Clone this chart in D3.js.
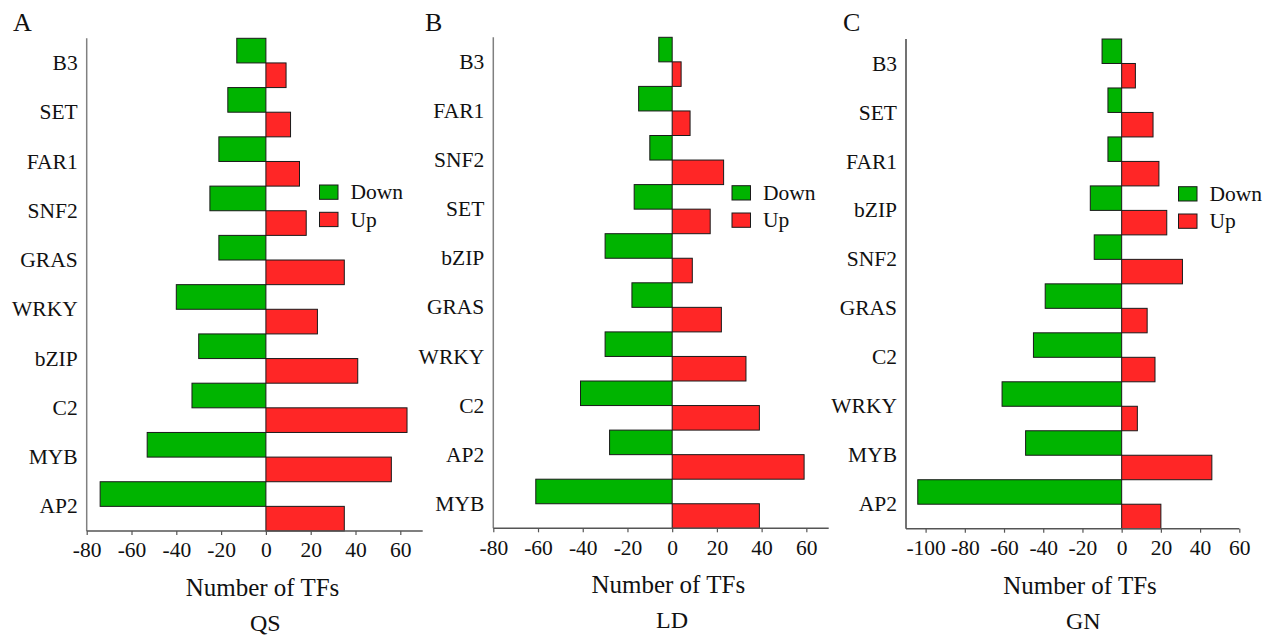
<!DOCTYPE html>
<html>
<head>
<meta charset="utf-8">
<script src="https://cdn.jsdelivr.net/npm/d3@7/dist/d3.min.js"></script>
<style>
  html, body { margin: 0; padding: 0; background: #fff; }
  svg { display: block; }
</style>
</head>
<body>
<svg id="chart" width="1273" height="637"></svg>
<script>
// Differentially expressed TF families: Down (negative) and Up (positive) counts
const catsQS = ["B3", "SET", "FAR1", "SNF2", "GRAS", "WRKY", "bZIP", "C2", "MYB", "AP2"];
const downQS = [-13, -17, -21, -25, -21, -40, -30, -33, -53, -74];
const upQS   = [9, 11, 15, 18, 35, 23, 41, 63, 56, 35];

const catsLD = ["B3", "FAR1", "SNF2", "SET", "bZIP", "GRAS", "WRKY", "C2", "AP2", "MYB"];
const downLD = [-6, -15, -10, -17, -30, -18, -30, -41, -28, -61];
const upLD   = [4, 8, 23, 17, 9, 22, 33, 39, 59, 39];

const catsGN = ["B3", "SET", "FAR1", "bZIP", "SNF2", "GRAS", "C2", "WRKY", "MYB", "AP2"];
const downGN = [-10, -7, -7, -16, -14, -39, -45, -61, -49, -104];
const upGN   = [7, 16, 19, 23, 31, 13, 17, 8, 46, 20];

const ticksQS = [-80, -60, -40, -20, 0, 20, 40, 60];
const ticksLD = [-80, -60, -40, -20, 0, 20, 40, 60];
const ticksGN = [-100, -80, -60, -40, -20, 0, 20, 40, 60];

const seriesNames = ["Down", "Up"];
const colors = { Down: "#00B400", Up: "#FF2626" };
const FONT = '"Liberation Serif", serif';

// Panel layout
const panels = [
  { letter: "A", name: "QS", cats: catsQS, down: downQS, up: upQS, ticks: ticksQS,
    domain: [-80, 70], x0: 86.7, x1: 422.7, y0: 38.3, y1: 531,
    titleX: 262.5, nameX: 265.3,
    letterX: 13, legendX: 319.5, legendY: 185, yAxisColor: "#808080" },
  { letter: "B", name: "LD", cats: catsLD, down: downLD, up: upLD, ticks: ticksLD,
    domain: [-80, 70], x0: 493.3, x1: 828.7, y0: 37.3, y1: 528.3,
    titleX: 668.3, nameX: 672,
    letterX: 425, legendX: 732, legendY: 185.7, yAxisColor: "#808080" },
  { letter: "C", name: "GN", cats: catsGN, down: downGN, up: upGN, ticks: ticksGN,
    domain: [-110, 60], x0: 906, x1: 1239.3, y0: 39, y1: 528.7,
    titleX: 1080, nameX: 1083.3,
    letterX: 843, legendX: 1178.5, legendY: 186.7, yAxisColor: "#444" }
];

const svg = d3.select("#chart");

panels.forEach(p => {
  const g = svg.append("g");
  const x = d3.scaleLinear().domain(p.domain).range([p.x0, p.x1]);
  const y = d3.scaleBand().domain(p.cats).range([p.y0, p.y1]).padding(0);
  const half = y.bandwidth() / 2;

  const rows = p.cats.map((c, i) => ({ cat: c, down: p.down[i], up: p.up[i] }));

  // Down bars (upper half of each band)
  g.selectAll("rect.down").data(rows).enter().append("rect")
    .attr("class", "down")
    .attr("x", d => x(d.down))
    .attr("y", d => y(d.cat))
    .attr("width", d => x(0) - x(d.down))
    .attr("height", half)
    .attr("fill", colors.Down)
    .attr("stroke", "#1a1a1a")
    .attr("stroke-width", 1);

  // Up bars (lower half of each band)
  g.selectAll("rect.up").data(rows).enter().append("rect")
    .attr("class", "up")
    .attr("x", x(0))
    .attr("y", d => y(d.cat) + half)
    .attr("width", d => x(d.up) - x(0))
    .attr("height", half)
    .attr("fill", colors.Up)
    .attr("stroke", "#1a1a1a")
    .attr("stroke-width", 1);

  // Y axis: line only, category labels on the left
  g.append("line")
    .attr("x1", p.x0).attr("x2", p.x0)
    .attr("y1", p.y0).attr("y2", p.y1)
    .attr("stroke", p.yAxisColor).attr("stroke-width", 1.5);

  g.selectAll("text.cat").data(p.cats).enter().append("text")
    .attr("class", "cat")
    .attr("x", p.x0 - 9)
    .attr("y", d => y(d) + half)
    .attr("dy", "0.33em")
    .attr("text-anchor", "end")
    .style("font-family", FONT)
    .attr("font-size", 21.5)
    .attr("fill", "#111")
    .text(d => d);

  // X axis
  const xAxis = d3.axisBottom(x)
    .tickValues(p.ticks)
    .tickSize(4)
    .tickPadding(7)
    .tickFormat(d => String(d));
  const ax = g.append("g")
    .attr("transform", `translate(0,${p.y1})`)
    .call(xAxis);
  ax.select(".domain").attr("stroke", "#555").attr("stroke-width", 1.5)
    .attr("d", `M${p.x0},0H${p.x1}`);
  ax.selectAll(".tick line").attr("stroke", "#555").attr("stroke-width", 1.2);
  ax.selectAll(".tick text")
    .style("font-family", FONT)
    .attr("font-size", 21.5)
    .attr("fill", "#111");

  // Axis title and panel subtitle
  g.append("text")
    .attr("x", p.titleX).attr("y", p.y1 + 65)
    .attr("text-anchor", "middle")
    .style("font-family", FONT).attr("font-size", 25)
    .attr("fill", "#111")
    .text("Number of TFs");
  g.append("text")
    .attr("x", p.nameX).attr("y", p.y1 + 100)
    .attr("text-anchor", "middle")
    .style("font-family", FONT).attr("font-size", 24)
    .attr("fill", "#111")
    .text(p.name);

  // Panel letter
  g.append("text")
    .attr("x", p.letterX).attr("y", 31)
    .style("font-family", FONT).attr("font-size", 26)
    .attr("fill", "#111")
    .text(p.letter);

  // Legend
  const lg = g.append("g").attr("transform", `translate(${p.legendX},${p.legendY})`);
  seriesNames.forEach((s, i) => {
    lg.append("rect")
      .attr("x", 0).attr("y", i * 27.3)
      .attr("width", 18.5).attr("height", 14.3)
      .attr("fill", colors[s]).attr("stroke", "#1a1a1a").attr("stroke-width", 1);
    lg.append("text")
      .attr("x", 31).attr("y", i * 27.3 + 14.3)
      .style("font-family", FONT).attr("font-size", 21.5)
      .attr("fill", "#111")
      .text(s);
  });
});
</script>
</body>
</html>
